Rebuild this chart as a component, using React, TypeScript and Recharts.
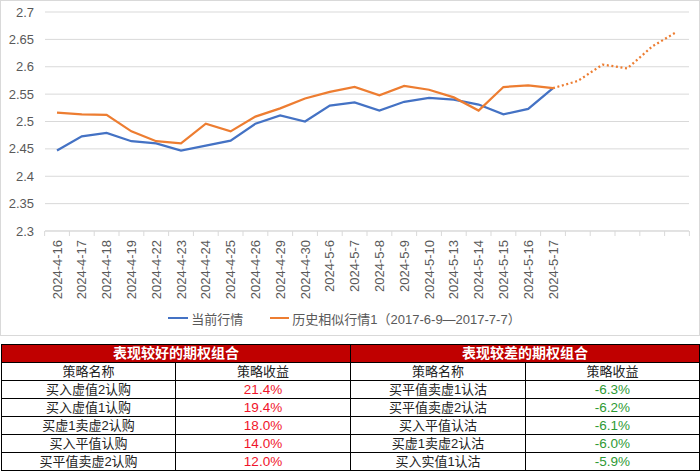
import React from 'react';
import { LineChart, Line, XAxis, YAxis, CartesianGrid, Legend } from 'recharts';

const dates = [
  '2024-4-16', '2024-4-17', '2024-4-18', '2024-4-19', '2024-4-22', '2024-4-23', '2024-4-24',
  '2024-4-25', '2024-4-26', '2024-4-29', '2024-4-30', '2024-5-6', '2024-5-7', '2024-5-8',
  '2024-5-9', '2024-5-10', '2024-5-13', '2024-5-14', '2024-5-15', '2024-5-16', '2024-5-17',
];
const futureSlots = 5;

const current = [
  2.447, 2.473, 2.479, 2.464, 2.460, 2.447, 2.456, 2.465, 2.496, 2.511, 2.500,
  2.529, 2.535, 2.520, 2.536, 2.543, 2.540, 2.531, 2.513, 2.523, 2.561,
];
const historical = [
  2.516, 2.513, 2.512, 2.482, 2.464, 2.460, 2.496, 2.482, 2.509, 2.524, 2.542,
  2.554, 2.563, 2.548, 2.565, 2.558, 2.544, 2.520, 2.563, 2.566, 2.561,
];
// continuation of the historical analogue, starting at the last real date
const projection = [2.561, 2.574, 2.604, 2.597, 2.637, 2.664];

const yTicks = [2.3, 2.35, 2.4, 2.45, 2.5, 2.55, 2.6, 2.65, 2.7];

const seriesNames = ['当前行情', '历史相似行情1（2017-6-9—2017-7-7）'];

const goodTitle = '表现较好的期权组合';
const badTitle = '表现较差的期权组合';
const colHeaders = ['策略名称', '策略收益'];
const goodNames = ['买入虚值2认购', '买入虚值1认购', '买虚1卖虚2认购', '买入平值认购', '买平值卖虚2认购'];
const goodReturns = ['21.4%', '19.4%', '18.0%', '14.0%', '12.0%'];
const badNames = ['买平值卖虚1认沽', '买平值卖虚2认沽', '买入平值认沽', '买虚1卖虚2认沽', '买入实值1认沽'];
const badReturns = ['-6.3%', '-6.2%', '-6.1%', '-6.0%', '-5.9%'];

const BLUE = '#4472C4';
const ORANGE = '#ED7D31';
const GRID = '#D9D9D9';
const TEXT = '#595959';
const FONT = '"Liberation Sans", Arial, "Noto Sans CJK SC", sans-serif';

const projStart = dates.length - 1;
const data = Array.from({ length: dates.length + futureSlots }, (_, i) => ({
  date: i < dates.length ? dates[i] : '',
  current: i < current.length ? current[i] : null,
  historical: i < historical.length ? historical[i] : null,
  projection: i >= projStart ? projection[i - projStart] : null,
}));

const DateTick = (props: any) => {
  const { x, y, payload, index, visibleTicksCount, width } = props;
  const count = visibleTicksCount || data.length;
  const half = width ? width / count / 2 : 12.4;
  const axisY = y - 9;
  return (
    <g>
      <line x1={x - half} x2={x - half} y1={axisY} y2={axisY + 5} stroke={GRID} strokeWidth={1} />
      {index === count - 1 && (
        <line x1={x + half} x2={x + half} y1={axisY} y2={axisY + 5} stroke={GRID} strokeWidth={1} />
      )}
      {payload.value ? (
        <text
          x={x}
          y={y}
          dy="0.36em"
          textAnchor="end"
          transform={`rotate(-90, ${x}, ${y})`}
          fill={TEXT}
          fontSize={13}
          fontFamily={FONT}
        >
          {payload.value}
        </text>
      ) : null}
    </g>
  );
};

const LegendContent = () => (
  <div
    style={{
      height: 20,
      display: 'flex',
      justifyContent: 'center',
      alignItems: 'center',
      fontFamily: FONT,
      fontSize: 13,
      color: TEXT,
      whiteSpace: 'nowrap',
    }}
  >
    <span style={{ display: 'inline-block', width: 20, height: 2.5, background: BLUE, marginRight: 3 }} />
    <span style={{ marginRight: 27 }}>{seriesNames[0]}</span>
    <span style={{ display: 'inline-block', width: 19, height: 2.5, background: ORANGE, marginRight: 3 }} />
    <span>{seriesNames[1]}</span>
  </div>
);

const cellBase: React.CSSProperties = {
  border: '1px solid #000',
  padding: 0,
  height: 17,
  lineHeight: '17px',
  textAlign: 'center',
  fontSize: 13,
  color: '#222',
  fontFamily: FONT,
  overflow: 'hidden',
  whiteSpace: 'nowrap',
};

const headerCell: React.CSSProperties = {
  ...cellBase,
  background: '#C00000',
  color: '#fff',
  fontWeight: 700,
  fontSize: 14,
};

export default function App() {
  return (
    <div style={{ position: 'absolute', left: 0, top: 0, width: 700, height: 472, background: '#fff' }}>
      <div style={{ position: 'absolute', left: 0, top: 0, width: 700, height: 336 }}>
        <LineChart width={700} height={336} data={data} margin={{ top: 12, right: 11, left: 0, bottom: 8 }}>
          <CartesianGrid vertical={false} stroke={GRID} strokeWidth={1} />
          <XAxis
            dataKey="date"
            interval={0}
            height={77}
            padding={{ left: 12, right: 12 }}
            tickLine={false}
            tickSize={6}
            tickMargin={3}
            axisLine={{ stroke: GRID }}
            tick={<DateTick />}
          />
          <YAxis
            domain={[2.3, 2.7]}
            ticks={yTicks}
            width={45}
            axisLine={false}
            tickLine={false}
            tickSize={0}
            tickMargin={11}
            tick={{ fill: TEXT, fontSize: 13, fontFamily: FONT }}
          />
          <Legend verticalAlign="bottom" content={<LegendContent />} />
          <Line
            type="linear"
            dataKey="current"
            name={seriesNames[0]}
            stroke={BLUE}
            strokeWidth={2.25}
            dot={false}
            isAnimationActive={false}
          />
          <Line
            type="linear"
            dataKey="historical"
            name={seriesNames[1]}
            stroke={ORANGE}
            strokeWidth={2.25}
            dot={false}
            isAnimationActive={false}
          />
          <Line
            type="linear"
            dataKey="projection"
            legendType="none"
            stroke={ORANGE}
            strokeWidth={2.25}
            strokeDasharray="2 2.6"
            dot={false}
            isAnimationActive={false}
          />
        </LineChart>
      </div>
      <div
        style={{
          position: 'absolute',
          left: 0,
          top: 0,
          width: 700,
          height: 336,
          boxSizing: 'border-box',
          border: `1px solid ${GRID}`,
          pointerEvents: 'none',
        }}
      />
      <table
        style={{
          position: 'absolute',
          left: 1,
          top: 344,
          width: 698,
          borderCollapse: 'collapse',
          tableLayout: 'fixed',
        }}
      >
        <colgroup>
          <col style={{ width: 174 }} />
          <col style={{ width: 175 }} />
          <col style={{ width: 175 }} />
          <col style={{ width: 174 }} />
        </colgroup>
        <tbody>
          <tr>
            <td colSpan={2} style={headerCell}>{goodTitle}</td>
            <td colSpan={2} style={headerCell}>{badTitle}</td>
          </tr>
          <tr>
            <td style={cellBase}>{colHeaders[0]}</td>
            <td style={cellBase}>{colHeaders[1]}</td>
            <td style={cellBase}>{colHeaders[0]}</td>
            <td style={cellBase}>{colHeaders[1]}</td>
          </tr>
          {goodNames.map((name, i) => (
            <tr key={i}>
              <td style={cellBase}>{name}</td>
              <td style={{ ...cellBase, color: '#F0142A', fontSize: 13.5 }}>{goodReturns[i]}</td>
              <td style={cellBase}>{badNames[i]}</td>
              <td style={{ ...cellBase, color: '#2E9A34', fontSize: 13.5 }}>{badReturns[i]}</td>
            </tr>
          ))}
        </tbody>
      </table>
    </div>
  );
}
